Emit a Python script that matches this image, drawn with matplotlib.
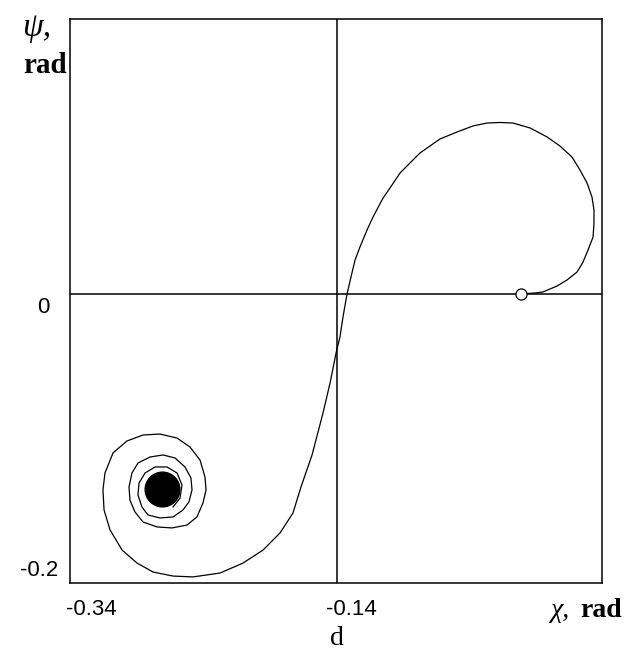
import matplotlib.pyplot as plt
from matplotlib.transforms import blended_transform_factory

# phase trajectory (chi, psi in rad), from the start point inward
CHI = [
    -0.0022, 0.0083, 0.0143, 0.0248, 0.0323, 0.0398, 0.0443, 0.0480, 0.0518, 0.0525,
    0.0525, 0.0510, 0.0473, 0.0420, 0.0360, 0.0270, 0.0173, 0.0046, -0.0082, -0.0179,
    -0.0276, -0.0381, -0.0501, -0.0628, -0.0778, -0.0853, -0.0928, -0.0988, -0.1055, -0.1130,
    -0.1175, -0.1228, -0.1265, -0.1295, -0.1325, -0.1355, -0.1378, -0.1407, -0.1452, -0.1505,
    -0.1587, -0.1670, -0.1730, -0.1827, -0.1954, -0.2104, -0.2276, -0.2479, -0.2628, -0.2778,
    -0.2898, -0.3010, -0.3100, -0.3145, -0.3153, -0.3138, -0.3078, -0.2973, -0.2853, -0.2726,
    -0.2598, -0.2501, -0.2426, -0.2389, -0.2381, -0.2404, -0.2449, -0.2524, -0.2636, -0.2748,
    -0.2853, -0.2913, -0.2951, -0.2958, -0.2936, -0.2891, -0.2801, -0.2703, -0.2613, -0.2539,
    -0.2494, -0.2486, -0.2509, -0.2554, -0.2628, -0.2726, -0.2816, -0.2861, -0.2891, -0.2883,
    -0.2838, -0.2763, -0.2673, -0.2598, -0.2561, -0.2576, -0.2628,
]
PSI = [
    0.0000, 0.0007, 0.0014, 0.0055, 0.0097, 0.0152, 0.0221, 0.0304, 0.0394, 0.0491,
    0.0581, 0.0671, 0.0768, 0.0858, 0.0948, 0.1024, 0.1087, 0.1149, 0.1183, 0.1187,
    0.1183, 0.1163, 0.1121, 0.1073, 0.0976, 0.0907, 0.0837, 0.0754, 0.0664, 0.0533,
    0.0443, 0.0325, 0.0235, 0.0118, 0.0000, -0.0159, -0.0298, -0.0408, -0.0616, -0.0824,
    -0.1114, -0.1336, -0.1516, -0.1654, -0.1772, -0.1862, -0.1931, -0.1958, -0.1952, -0.1924,
    -0.1862, -0.1772, -0.1633, -0.1495, -0.1356, -0.1239, -0.1100, -0.1017, -0.0976, -0.0969,
    -0.0997, -0.1059, -0.1149, -0.1266, -0.1356, -0.1446, -0.1543, -0.1599, -0.1619, -0.1612,
    -0.1578, -0.1509, -0.1426, -0.1336, -0.1239, -0.1170, -0.1128, -0.1114, -0.1135, -0.1197,
    -0.1273, -0.1356, -0.1439, -0.1495, -0.1543, -0.1550, -0.1529, -0.1474, -0.1391, -0.1308,
    -0.1239, -0.1197, -0.1197, -0.1239, -0.1322, -0.1412, -0.1474,
]
START = (-0.0022, 0.0)
FOCUS = (-0.2711, -0.1349)

X_TICKS = [-0.34, -0.14]
X_LABELS = ["-0.34", "-0.14"]
Y_TICKS = [0.0, -0.2]
Y_LABELS = ["0", "-0.2"]
CHI_AXIS = -0.14
PSI_AXIS = 0.0

SERIF = ["Liberation Serif", "DejaVu Serif"]
SANS = ["Liberation Sans", "DejaVu Sans"]

fig = plt.figure(figsize=(6.3, 6.53), dpi=100)
ax = fig.add_axes([70 / 630, 1 - 583 / 653, 532 / 630, 564 / 653])
ax.set_xlim(-0.34, 0.0585)
ax.set_ylim(-0.2, 0.1903)
ax.set_xticks([])
ax.set_yticks([])
for s in ax.spines.values():
    s.set_linewidth(1.1)

ax.axvline(CHI_AXIS, color="black", lw=1.1)
ax.axhline(PSI_AXIS, color="black", lw=1.1)

ax.plot(CHI, PSI, color="black", lw=0.9)
ax.plot(*FOCUS, "o", color="black", markersize=25)
ax.plot(*START, "o", mfc="white", mec="black", mew=0.9, markersize=8, zorder=5)

xt = blended_transform_factory(ax.transData, ax.transAxes)
for v, lab, dx in zip(X_TICKS, X_LABELS, [-4, -11]):
    ax.annotate(lab, xy=(v, 0), xycoords=xt, xytext=(dx, -32), textcoords="offset pixels",
                ha="left", va="baseline", fontsize=16, family=SANS, annotation_clip=False)

yt = blended_transform_factory(ax.transAxes, ax.transData)
for v, lab, dx, dy in zip(Y_TICKS, Y_LABELS, [-20, -12], [-19, 7]):
    ax.annotate(lab, xy=(0, v), xycoords=yt, xytext=(dx, dy), textcoords="offset pixels",
                ha="right", va="baseline", fontsize=16, family=SANS, annotation_clip=False)

fig.text(22 / 630, 1 - 36 / 653, "ψ,", fontsize=24, style="italic", family=SERIF, va="baseline")
fig.text(23 / 630, 1 - 73 / 653, "rad", fontsize=21, weight="bold", family=SERIF, va="baseline")
fig.text(550 / 630, 1 - 617 / 653, "χ,", fontsize=20, style="italic", family=SERIF, va="baseline")
fig.text(580 / 630, 1 - 617 / 653, "rad", fontsize=20, weight="bold", family=SERIF, va="baseline")
fig.text(337 / 630, 1 - 645 / 653, "d", fontsize=20, family=SERIF, ha="center", va="baseline")

fig.savefig("out.png", dpi=100)
